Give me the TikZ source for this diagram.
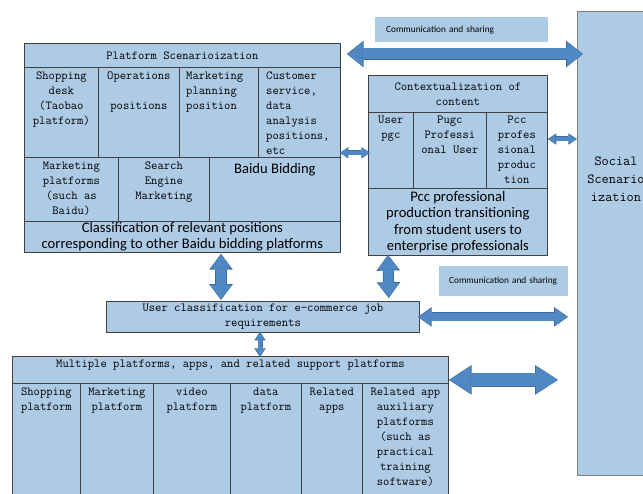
\documentclass[tikz,border=0pt]{standalone}
\usepackage{fontspec}
\newfontfamily\cellsans{Carlito}
\usetikzlibrary{positioning,arrows.meta,calc}

\definecolor{boxfill}{HTML}{AECBE6}
\definecolor{boxline}{HTML}{404040}
\definecolor{sideline}{HTML}{808080}
\definecolor{arrowfill}{HTML}{5088C3}
\definecolor{arrowline}{HTML}{3A6A9E}

\tikzset{
  cell/.style={draw=boxline, fill=boxfill, line width=0.8pt, anchor=north west, inner sep=0pt},
  mono/.style={font=\ttfamily\fontsize{12.3pt}{15pt}\selectfont, inner sep=0pt, align=center},
  sans/.style={font=\cellsans\fontsize{14.6pt}{16.5pt}\selectfont, inner sep=0pt, align=center},
  commbox/.style={fill=boxfill, anchor=north west, inner ysep=0pt, align=left, font=\cellsans\fontsize{9.3pt}{11pt}\selectfont},
  blockarrow/.style n args={6}{line width=#1, draw=arrowfill,
    {Triangle[length=#3, width=#2, line width=0pt]}-{Triangle[length=#3, width=#2, line width=0pt]},
    shorten <=0.8pt, shorten >=0.8pt,
    preaction={draw=arrowline, line width=#4,
      {Triangle[length=#6, width=#5, line width=0pt]}-{Triangle[length=#6, width=#5, line width=0pt]},
      shorten <=0pt, shorten >=0pt}},
  bigarrow/.style={blockarrow={11pt}{24pt}{15pt}{12.6pt}{26.6pt}{16.8pt}},
  widearrow/.style={blockarrow={13pt}{27pt}{21pt}{14.6pt}{29.6pt}{22.8pt}},
  midarrow/.style={blockarrow={9.5pt}{21pt}{14pt}{11.1pt}{23.6pt}{15.8pt}},
  thinarrow/.style={blockarrow={7.5pt}{17pt}{12pt}{9.1pt}{19.6pt}{13.8pt}},
  smallarrow/.style={blockarrow={3.6pt}{9pt}{7pt}{5pt}{11.4pt}{8.6pt}}
}

\begin{document}
\begin{tikzpicture}[x=1pt, y=-1pt]
  \useasboundingbox (0,0) rectangle (643,494);
  \clip (0,0) rectangle (643,494);

  \node[cell, draw=sideline, minimum width=90pt, minimum height=464pt] (social) at (577,11) {};
  \node[font=\ttfamily\fontsize{13.9pt}{18pt}\selectfont, align=center, inner sep=0pt] (socialtxt) at (616,179) {Social\\Scenario\\ization};

  \node[commbox, minimum width=173pt, minimum height=25pt, text width=151pt, inner xsep=11pt] (comm1) at (375,17) {Communication and sharing};
  \node[commbox, minimum width=129pt, minimum height=30pt, text width=109pt, inner xsep=10pt] (comm2) at (439,266) {Communication and sharing};

  \node[cell, mono, minimum width=316pt, minimum height=24pt] (ptitle) at (24,43) {Platform Scenarioization};
  \node[cell, minimum width=74pt, minimum height=90pt] (pshop) at (24,67) {};
  \node[cell, minimum width=81pt, minimum height=90pt] (poper) at (98,67) {};
  \node[cell, minimum width=79pt, minimum height=90pt] (pmark) at (179,67) {};
  \node[cell, minimum width=82pt, minimum height=90pt] (pcust) at (258,67) {};
  \node[mono, below=5pt of pshop.north] (pshoptxt) {Shopping\\desk\\(Taobao\\platform)};
  \node[mono, below=5pt of poper.north] (popertxt) {Operations\\[15pt]positions};
  \node[mono, align=left, below right=5pt and 7pt of pmark.north west] (pmarktxt) {Marketing\\planning\\position};
  \node[mono, align=left, below right=5pt and 8pt of pcust.north west] (pcusttxt) {Customer\\service,\\data\\analysis\\positions,\\etc};
  \node[cell, minimum width=94pt, minimum height=64pt] (pmkt) at (24,157) {};
  \node[cell, minimum width=91pt, minimum height=64pt] (psearch) at (118,157) {};
  \node[cell, minimum width=131pt, minimum height=64pt] (pbid) at (209,157) {};
  \node[mono, below=5pt of pmkt.north] (pmkttxt) {Marketing\\platforms\\(such as\\Baidu)};
  \node[mono, below=5pt of psearch.north] (psearchtxt) {Search\\Engine\\Marketing};
  \node[sans, below=6pt of pbid.north] (pbidtxt) {Baidu Bidding};
  \node[cell, sans, minimum width=316pt, minimum height=31pt] (pclass) at (24,221) {Classification of relevant positions\\corresponding to other Baidu bidding platforms};

  \node[cell, mono, minimum width=179pt, minimum height=37pt] (ctitle) at (368,75) {Contextualization of\\content};
  \node[cell, minimum width=45pt, minimum height=76pt] (cuser) at (368,112) {};
  \node[cell, minimum width=73pt, minimum height=76pt] (cpugc) at (413,112) {};
  \node[cell, minimum width=61pt, minimum height=76pt] (cpcc) at (486,112) {};
  \node[mono, below=3.5pt of cuser.north] (cusertxt) {User\\pgc};
  \node[mono, below=3.5pt of cpugc.north] (cpugctxt) {Pugc\\Professi\\onal User};
  \node[mono, below=3.5pt of cpcc.north] (cpcctxt) {Pcc\\profes\\sional\\produc\\tion};
  \node[cell, sans, minimum width=179pt, minimum height=67pt] (cprof) at (368,188) {Pcc professional\\production transitioning\\from student users to\\enterprise professionals};

  \node[cell, mono, minimum width=313pt, minimum height=31pt] (user) at (106,301) {User classification for e-commerce job\\requirements};

  \node[cell, minimum width=436pt, minimum height=27pt] (mtitle) at (12,356) {};
  \node[mono, below=4pt of mtitle.north] (mtitletxt) {Multiple platforms, apps, and related support platforms};
  \node[cell, minimum width=68pt, minimum height=130pt] (mshop) at (12,383) {};
  \node[cell, minimum width=73pt, minimum height=130pt] (mmkt) at (80,383) {};
  \node[cell, minimum width=77pt, minimum height=130pt] (mvideo) at (153,383) {};
  \node[cell, minimum width=71pt, minimum height=130pt] (mdata) at (230,383) {};
  \node[cell, minimum width=61pt, minimum height=130pt] (mapps) at (301,383) {};
  \node[cell, minimum width=86pt, minimum height=130pt] (maux) at (362,383) {};
  \node[mono, below=4.5pt of mshop.north] (mshoptxt) {Shopping\\platform};
  \node[mono, below=4.5pt of mmkt.north] (mmkttxt) {Marketing\\platform};
  \node[mono, below=4.5pt of mvideo.north] (mvideotxt) {video\\platform};
  \node[mono, below=4.5pt of mdata.north] (mdatatxt) {data\\platform};
  \node[mono, below=4.5pt of mapps.north] (mappstxt) {Related\\apps};
  \node[mono, below=4.5pt of maux.north] (mauxtxt) {Related app\\auxiliary\\platforms\\(such as\\practical\\training\\software)};

  \draw[bigarrow] ($(ptitle.north east)+(6,11)$) -- ($(social.west |- ptitle.north east)+(6,11)$);
  \draw[smallarrow] ($(pcust.south east)+(-1,-5)$) -- ($(cuser.west |- pcust.south east)+(2,-5)$);
  \draw[smallarrow] ($(cpcc.north east)+(0,27)$) -- ($(social.west |- cpcc.north east)+(0,27)$);
  \draw[midarrow] ($(pclass.south west)+(197,1)$) -- ($(user.north west)+(115,-1)$);
  \draw[midarrow] ($(cprof.south west)+(20,-1)$) -- ($(user.north east)+(-31,-3)$);
  \draw[thinarrow] ($(user.east)+(-2,0)$) -- ($(user.east -| social.west)+(-9,0)$);
  \draw[smallarrow] ($(user.south west)+(154,-1)$) -- ($(mtitle.north west)+(248,1)$);
  \draw[widearrow] ($(mtitle.east)+(0,10)$) -- ($(mtitle.east -| social.west)+(-19,10)$);
\end{tikzpicture}
\end{document}
